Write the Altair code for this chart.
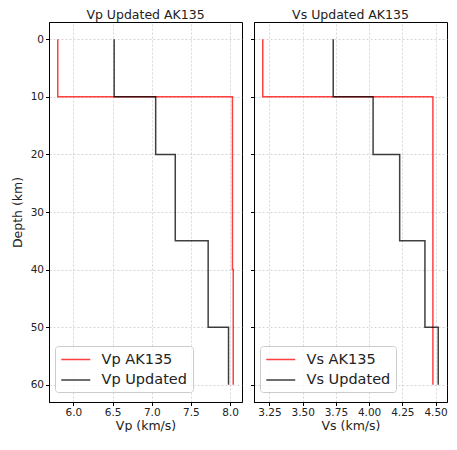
import altair as alt
import pandas as pd

# Depth profiles (km) and velocities (km/s)
depth_ak = [0, 10, 10, 40, 40, 60]
vp_ak135 = [5.80, 5.80, 8.03, 8.03, 8.04, 8.04]
depth_vs_ak = [0, 10, 10, 60]
vs_ak135 = [3.20, 3.20, 4.48, 4.48]

depth_up = [0, 10, 10, 20, 20, 35, 35, 50, 50, 60]
vp_updated = [6.52, 6.52, 7.05, 7.05, 7.30, 7.30, 7.72, 7.72, 7.98, 7.98]
vs_updated = [3.73, 3.73, 4.03, 4.03, 4.23, 4.23, 4.42, 4.42, 4.52, 4.52]

depth_ticks = [0, 10, 20, 30, 40, 50, 60]
vp_ticks = [6.0, 6.5, 7.0, 7.5, 8.0]
vs_ticks = [3.25, 3.50, 3.75, 4.00, 4.25, 4.50]

FONT = "DejaVu Sans"
TXT = "#222222"
PLOT_H = 380
PLOT_W = 193

AXIS_STYLE = dict(
    labelFont=FONT, titleFont=FONT, labelFontSize=10.5, titleFontSize=12.5,
    titleFontWeight="normal", labelColor=TXT, titleColor=TXT,
    domainColor="black", tickColor="black", tickSize=3.5, labelPadding=2,
    gridColor="#bbbbbb", gridDash=[2, 2], gridOpacity=0.6,
)


def frame(depths_a, vals_a, name_a, depths_b, vals_b, name_b):
    rows = []
    for i, (d, v) in enumerate(zip(depths_a, vals_a)):
        rows.append({"series": name_a, "depth": d, "vel": v, "idx": i})
    for i, (d, v) in enumerate(zip(depths_b, vals_b)):
        rows.append({"series": name_b, "depth": d, "vel": v, "idx": i})
    return pd.DataFrame(rows)


def domain_with_margin(vals):
    lo, hi = min(vals), max(vals)
    m = (hi - lo) * 0.05
    return [lo - m, hi + m]


def panel(df, names, title, xtitle, xticks, xfmt, xdom, show_y):
    yaxis_kw = dict(values=depth_ticks, labels=show_y, titlePadding=6,
                    **AXIS_STYLE)
    yaxis_kw["title"] = "Depth (km)" if show_y else ""
    return (
        alt.Chart(df, title=alt.TitleParams(title, fontSize=12.5, font=FONT,
                                              fontWeight="normal", offset=0.5,
                                              color=TXT))
        .mark_line(strokeWidth=1.5, opacity=0.75)
        .encode(
            x=alt.X("vel:Q",
                    scale=alt.Scale(domain=xdom, nice=False, zero=False),
                    axis=alt.Axis(values=xticks, format=xfmt, title=xtitle,
                                  titlePadding=1, **AXIS_STYLE)),
            y=alt.Y("depth:Q",
                    scale=alt.Scale(domain=[-3, 63], reverse=True, nice=False,
                                    zero=False),
                    axis=alt.Axis(**yaxis_kw)),
            color=alt.Color("series:N",
                            scale=alt.Scale(domain=names,
                                            range=["#ff0000", "#000000"]),
                            legend=alt.Legend(
                                title=None, orient="none", legendX=6,
                                legendY=PLOT_H - 56, symbolType="M-1,0H3",
                                symbolSize=210, symbolStrokeWidth=1.5,
                                labelFontSize=14.5, labelFont=FONT,
                                labelColor=TXT,
                                labelOffset=25, rowPadding=5.5, padding=5.5,
                                fillColor="rgba(255,255,255,0.8)",
                                strokeColor="#cccccc", cornerRadius=3)),
            order="idx:Q",
        )
        .properties(width=PLOT_W, height=PLOT_H)
    )


vp_df = frame(depth_ak, vp_ak135, "Vp AK135", depth_up, vp_updated, "Vp Updated")
vs_df = frame(depth_vs_ak, vs_ak135, "Vs AK135", depth_up, vs_updated, "Vs Updated")

left = panel(vp_df, ["Vp AK135", "Vp Updated"], "Vp Updated AK135",
             "Vp (km/s)", vp_ticks, ".1f",
             domain_with_margin(vp_ak135 + vp_updated), True)
right = panel(vs_df, ["Vs AK135", "Vs Updated"], "Vs Updated AK135",
              "Vs (km/s)", vs_ticks, ".2f",
              domain_with_margin(vs_ak135 + vs_updated), False)

chart = (
    alt.hconcat(left, right, spacing=6)
    .resolve_scale(color="independent", x="independent", y="independent")
    .properties(padding={"left": 2, "top": 0, "right": 0, "bottom": 0})
    .configure_view(stroke="black", strokeWidth=1)
)

chart.save("out.html", embed_options={"renderer": "svg", "actions": False})
